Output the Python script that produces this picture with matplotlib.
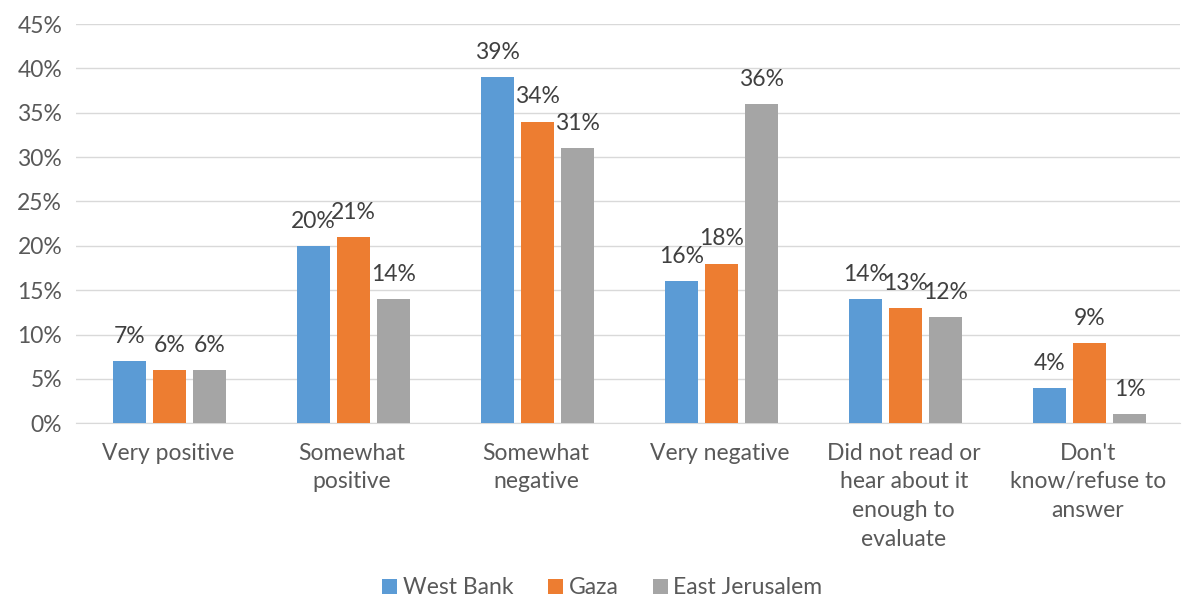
import numpy as np
import matplotlib.pyplot as plt

plt.rcParams['font.family'] = ['Lato', 'DejaVu Sans']

categories = ['Very positive', 'Somewhat\npositive', 'Somewhat\nnegative', 'Very negative',
              'Did not read or\nhear about it\nenough to\nevaluate', "Don't\nknow/refuse to\nanswer"]
west_bank = [7, 20, 39, 16, 14, 4]
gaza = [6, 21, 34, 18, 13, 9]
east_jerusalem = [6, 14, 31, 36, 12, 1]

series = [('West Bank', west_bank, '#5B9BD5'),
          ('Gaza', gaza, '#ED7D31'),
          ('East Jerusalem', east_jerusalem, '#A5A5A5')]

fig = plt.figure(figsize=(11.88, 6.02), dpi=100)
ax = fig.add_axes([0.064, 0.297, 0.929, 0.663])

x = np.arange(len(categories))
step = 0.218
width = 0.18
for i, (name, vals, col) in enumerate(series):
    pos = x + (i - 1) * step + 0.01
    ax.bar(pos, vals, width=width, color=col, label=name, zorder=3)
    for p, v in zip(pos, vals):
        ax.text(p, v + 1.6, f'{v}%', ha='center', va='bottom', fontsize=16.5, color='#404040')

ax.set_xlim(-0.5, len(categories) - 0.5)
ax.set_ylim(0, 45)
ax.set_yticks(range(0, 46, 5))
ax.set_yticklabels([f'{t}%' for t in range(0, 46, 5)])
ax.set_xticks(x)
ax.set_xticklabels(categories, fontsize=16.5, color='#595959', linespacing=1.45)
ax.tick_params(axis='y', labelsize=16.5, colors='#595959', length=0, pad=10)
ax.tick_params(axis='x', length=0, pad=14)
ax.yaxis.grid(True, color='#D9D9D9', linewidth=1, zorder=0)
for s in ['top', 'right', 'left']:
    ax.spines[s].set_visible(False)
ax.spines['bottom'].set_color('#D9D9D9')

fig.legend(loc='lower center', bbox_to_anchor=(0.507, -0.028), ncol=3, frameon=False,
           fontsize=16.5, handlelength=0.65, handleheight=0.65, handletextpad=0.25,
           columnspacing=1.5, labelcolor='#595959')

fig.savefig('out.png', dpi=100)
